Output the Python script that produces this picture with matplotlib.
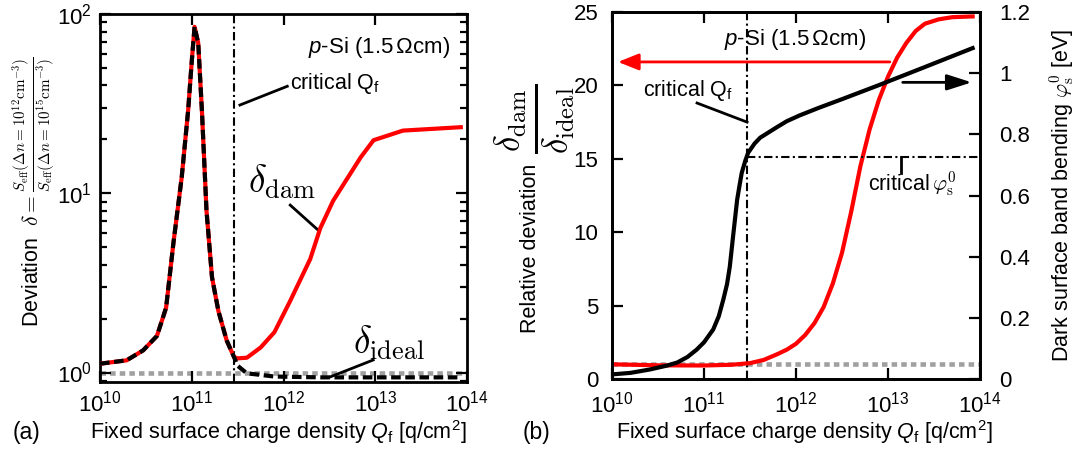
import numpy as np
import matplotlib
matplotlib.use("Agg")
import matplotlib.pyplot as plt
from matplotlib.ticker import FixedLocator, FuncFormatter, LogLocator, NullFormatter, NullLocator

plt.rcParams["font.family"] = ["Liberation Sans", "DejaVu Sans"]
plt.rcParams["mathtext.fontset"] = "custom"
plt.rcParams["mathtext.rm"] = "Liberation Sans"
plt.rcParams["mathtext.it"] = "Liberation Sans:italic"
plt.rcParams["mathtext.bf"] = "Liberation Sans:bold"
plt.rcParams["axes.linewidth"] = 2.0

# (a) deviation delta, log10(Qf / cm^-2); both curves coincide below critical Qf
log_qf_common = [10.0, 10.29, 10.47, 10.62, 10.72, 10.8, 10.89, 10.96, 11.0, 11.03,
                 11.07, 11.11, 11.16, 11.22, 11.29, 11.38, 11.46]
delta_common = [1.12, 1.17, 1.33, 1.6, 2.3, 5.3, 12.3, 29.0, 55.0, 85.0,
                69.0, 29.0, 8.0, 3.4, 2.2, 1.51, 1.22]
log_qf_dam = [11.5, 11.6, 11.75, 11.9, 12.07, 12.29, 12.4, 12.54, 12.84, 12.98, 13.3, 13.93]
delta_dam = [1.2, 1.21, 1.38, 1.68, 2.5, 4.3, 6.4, 9.1, 15.9, 19.8, 22.4, 23.4]
log_qf_ideal = [11.5, 11.6, 11.9, 12.4, 13.93]
delta_ideal = [1.09, 0.99, 0.95, 0.94, 0.94]

qf_crit = 2.9e11
phi_crit = 0.727

# (b) ratio delta_dam/delta_ideal and dark band bending
log_qf_ratio = [10.0, 10.5, 11.0, 11.3, 11.5, 11.65, 11.8, 11.9, 12.0, 12.1, 12.2, 12.3,
                12.4, 12.5, 12.6, 12.7, 12.8, 12.9, 13.0, 13.1, 13.2, 13.3, 13.4,
                13.55, 13.7, 13.92]
ratio = [1.0, 0.93, 0.92, 0.97, 1.08, 1.3, 1.7, 2.0, 2.4, 3.0, 3.8, 4.9,
         6.5, 8.6, 11.4, 14.5, 17.0, 19.0, 20.6, 21.9, 22.9, 23.7, 24.2,
         24.5, 24.65, 24.7]
log_qf_phi = [10.0, 10.2, 10.41, 10.6, 10.71, 10.82, 10.92, 11.0, 11.1, 11.16, 11.21,
              11.25, 11.28, 11.32, 11.36, 11.39, 11.41, 11.45, 11.48, 11.55, 11.61,
              11.7, 11.79, 11.9, 12.04, 12.25, 12.5, 12.91, 13.4, 13.92]
phi = [0.015, 0.02, 0.031, 0.044, 0.054, 0.072, 0.096, 0.12, 0.162, 0.205, 0.26,
       0.31, 0.367, 0.478, 0.586, 0.64, 0.674, 0.715, 0.74, 0.77, 0.789,
       0.806, 0.823, 0.843, 0.862, 0.887, 0.915, 0.962, 1.02, 1.082]

RED = "#ff0000"
GRAY = "#a0a0a0"
dashdot = (0, (4, 1.6, 1, 1.6))
cm = dict(math_fontfamily="cm")


def q(v):
    return 10.0 ** np.asarray(v)


def style_axis(ax, xpad):
    ax.set_xscale("log")
    ax.set_xlim(1e10, 1e14)
    ax.xaxis.set_major_locator(FixedLocator([1e10, 1e11, 1e12, 1e13, 1e14]))
    ax.xaxis.set_minor_locator(NullLocator())
    ax.tick_params(axis="x", which="major", direction="in", top=True, length=8,
                   width=1.6, labelsize=16, pad=xpad)


fig = plt.figure(figsize=(10.8, 4.57), dpi=100)

# ---------- (a)
ax = fig.add_axes([0.0926, 0.164, 0.340, 0.805])
style_axis(ax, 6)
ax.set_yscale("log")
ax.set_ylim(0.885, 100)
ax.yaxis.set_major_locator(FixedLocator([1, 10, 100]))
ax.yaxis.set_minor_locator(LogLocator(base=10, subs=np.arange(2, 10)))
ax.yaxis.set_minor_formatter(NullFormatter())
ax.tick_params(axis="y", which="both", direction="in", right=True, width=1.6, labelsize=16, pad=6)
ax.tick_params(axis="y", which="major", length=8)
ax.tick_params(axis="y", which="minor", length=5)

ax.plot([1e10, 1e14], [1, 1], color=GRAY, lw=3.3, ls=(0, (1.2, 0.9)), zorder=1)
ax.axvline(qf_crit, color="black", lw=1.5, ls=dashdot, zorder=2)
ax.plot(q(log_qf_common + log_qf_dam), delta_common + delta_dam, color=RED, lw=3, zorder=3)
ax.plot(q(log_qf_common + log_qf_ideal), delta_common + delta_ideal, color="black", lw=3,
        ls=(0, (2.3, 1.1)), zorder=4)

ax.text(0.954, 0.91, "$p$-Si (1.5$\\,\\Omega$cm)", transform=ax.transAxes, ha="right",
        va="center", fontsize=16)
ax.text(0.518, 0.8125, "critical Q$_\\mathrm{f}$", transform=ax.transAxes, ha="left",
        va="center", fontsize=15.5)
ax.plot([0.381, 0.510], [0.753, 0.804], color="black", lw=2, transform=ax.transAxes)
ax.text(0.403, 0.543, "$\\delta_\\mathrm{dam}$", transform=ax.transAxes, ha="left",
        va="center", fontsize=27, **cm)
ax.plot([0.518, 0.594], [0.481, 0.413], color="black", lw=2, transform=ax.transAxes)
ax.text(0.689, 0.106, "$\\delta_\\mathrm{ideal}$", transform=ax.transAxes, ha="left",
        va="center", fontsize=27, **cm)
ax.plot([0.744, 0.627], [0.060, 0.014], color="black", lw=2, transform=ax.transAxes)

# ---------- (b)
bx = fig.add_axes([0.5667, 0.1707, 0.3407, 0.803])
style_axis(bx, 9)
bx.set_ylim(0, 25)
bx.yaxis.set_major_locator(FixedLocator([0, 5, 10, 15, 20, 25]))
bx.tick_params(axis="y", direction="in", length=8, width=1.6, labelsize=16, pad=10)
px = bx.twinx()
px.set_ylim(0, 1.2)
px.yaxis.set_major_locator(FixedLocator([0, 0.2, 0.4, 0.6, 0.8, 1.0, 1.2]))
px.yaxis.set_major_formatter(FuncFormatter(lambda v, p: "%g" % v))
px.tick_params(axis="y", direction="in", length=8, width=1.6, labelsize=16, pad=14)

bx.plot([1e10, 1e14], [1, 1], color=GRAY, lw=3.3, ls=(0, (1.2, 0.9)), zorder=1)
bx.axvline(qf_crit, color="black", lw=1.5, ls=dashdot, zorder=2)
px.plot([qf_crit, 1e14], [phi_crit, phi_crit], color="black", lw=1.5, ls=dashdot)
bx.plot(q(log_qf_ratio), ratio, color=RED, lw=3, zorder=3)
px.plot(q(log_qf_phi), phi, color="black", lw=3)

bx.annotate("", xy=(10 ** 10.065, 21.6), xytext=(10 ** 13.02, 21.6),
            arrowprops=dict(arrowstyle="-|>,head_length=0.45,head_width=0.18",
                            color=RED, lw=2, mutation_scale=28, shrinkA=0, shrinkB=0))
px.annotate("", xy=(10 ** 13.91, 0.97), xytext=(10 ** 13.16, 0.97),
            arrowprops=dict(arrowstyle="-|>,head_length=0.5,head_width=0.16",
                            color="black", lw=2, mutation_scale=30, shrinkA=0, shrinkB=0))

bx.text(0.497, 0.924, "$p$-Si (1.5$\\,\\Omega$cm)", transform=bx.transAxes, ha="center",
        va="center", fontsize=16)
bx.text(0.084, 0.787, "critical Q$_\\mathrm{f}$", transform=bx.transAxes, ha="left",
        va="center", fontsize=15.5)
bx.plot([0.231, 0.367], [0.752, 0.700], color="black", lw=2, transform=bx.transAxes)
bx.text(0.696, 0.529, "critical$\\,\\varphi_\\mathrm{s}^0$", transform=bx.transAxes,
        ha="left", va="center", fontsize=15.5, **cm)
bx.plot([0.785, 0.785], [0.605, 0.561], color="black", lw=2, transform=bx.transAxes)

# ---------- labels
fs = 15.5
fig.text(278 / 1080, 1 - 432 / 457, "Fixed surface charge density $Q_\\mathrm{f}$ [q/cm$^2$]",
         ha="center", va="center", fontsize=fs)
fig.text(804 / 1080, 1 - 432 / 457, "Fixed surface charge density $Q_\\mathrm{f}$ [q/cm$^2$]",
         ha="center", va="center", fontsize=fs)
fig.text(26 / 1080, 1 - 433 / 457, "(a)", ha="center", va="center", fontsize=16.5)
fig.text(537 / 1080, 1 - 432 / 457, "(b)", ha="center", va="center", fontsize=16.5)
fig.text(34 / 1080, 1 - 192 / 457,
         "Deviation  $\\delta=\\frac{S_\\mathrm{eff}(\\Delta n=10^{12}\\mathrm{cm}^{-3})}"
         "{S_\\mathrm{eff}(\\Delta n=10^{15}\\mathrm{cm}^{-3})}$",
         rotation=90, ha="center", va="center", fontsize=fs, **cm)
# left label of (b): plain words plus a full-size fraction
fig.text(531 / 1080, 1 - 248 / 457, "Relative deviation", rotation=90,
         ha="center", va="center", fontsize=fs)
fig.text(535 / 1080, 1 - 119 / 457,
         "$\\frac{\\delta_\\mathrm{dam}}{\\delta_\\mathrm{ideal}}$",
         rotation=90, ha="center", va="center", fontsize=36, **cm)
fig.text(1062 / 1080, 1 - 195 / 457, "Dark surface band bending $\\varphi_\\mathrm{s}^0$ [eV]",
         rotation=90, ha="center", va="center", fontsize=fs, **cm)

fig.savefig("out.png", dpi=100)
